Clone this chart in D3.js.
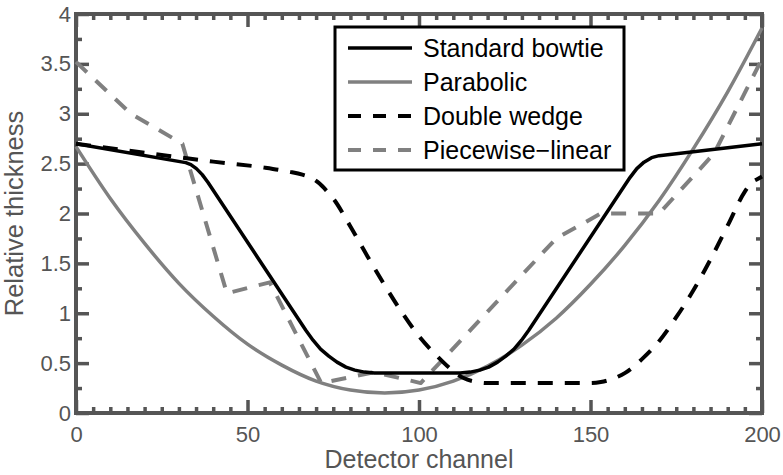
<!DOCTYPE html>
<html>
<head>
<meta charset="utf-8">
<script src="https://cdn.jsdelivr.net/npm/d3@7"></script>
<style>
  html, body { margin: 0; padding: 0; background: #fff; }
  svg { display: block; font-family: "Liberation Sans", Arial, Helvetica, sans-serif; }
</style>
</head>
<body>
<svg id="chart" width="783" height="475"></svg>
<script>
// ---- Data ----
const seriesNames = ["Standard bowtie", "Parabolic", "Double wedge", "Piecewise\u2212linear"];

const bowtieX = [0, 32, 33.5, 35.1, 36.8, 38.5, 67, 69.1, 71.3, 73.7, 76.1, 78.7, 81.3, 84.1, 87, 112, 114.9, 117.7, 120.3, 122.9, 125.3, 127.7, 129.9, 132, 161.5, 163.5, 165.6, 167.8, 170, 200];
const bowtieY = [2.70, 2.51, 2.49, 2.45, 2.39, 2.31, 0.83, 0.73, 0.64, 0.57, 0.51, 0.46, 0.43, 0.41, 0.40, 0.40, 0.41, 0.43, 0.46, 0.51, 0.57, 0.64, 0.73, 0.83, 2.36, 2.45, 2.515, 2.56, 2.58, 2.70];

const parabolicX = [0, 10, 20, 30, 40, 50, 60, 70, 80, 90, 100, 110, 120, 130, 140, 150, 160, 170, 180, 190, 200];
const parabolicY = [2.67, 2.15, 1.70, 1.30, 0.97, 0.69, 0.48, 0.32, 0.23, 0.20, 0.23, 0.32, 0.47, 0.68, 0.95, 1.29, 1.68, 2.13, 2.65, 3.22, 3.86];

const wedgeX = [0, 20, 40, 55, 62, 66, 69, 71, 73, 75, 80, 85, 90, 95, 100, 105, 110, 113, 117, 120, 150, 153, 157, 160, 165, 170, 175, 180, 185, 190, 195, 197, 199, 200];
const wedgeY = [2.70, 2.61, 2.52, 2.46, 2.42, 2.39, 2.35, 2.30, 2.23, 2.15, 1.87, 1.57, 1.28, 1.01, 0.77, 0.58, 0.42, 0.35, 0.31, 0.30, 0.30, 0.31, 0.35, 0.40, 0.54, 0.72, 0.96, 1.23, 1.54, 1.88, 2.22, 2.31, 2.35, 2.37];

const piecewiseX = [0, 16, 31, 44, 56.5, 71.5, 87, 100.5, 140, 153, 170, 186, 200];
const piecewiseY = [3.52, 3.00, 2.70, 1.20, 1.31, 0.30, 0.41, 0.30, 1.75, 2.00, 2.00, 2.60, 3.55];

const xTicks = [0, 50, 100, 150, 200];
const yTicks = [0, 0.5, 1, 1.5, 2, 2.5, 3, 3.5, 4];
const xMinorTicks = d3.range(0, 201, 5).filter(v => v % 50 !== 0);
const yMinorTicks = d3.range(0, 4.01, 0.25).filter(v => Math.abs(v * 2 - Math.round(v * 2)) > 1e-6);

const xLabel = "Detector channel";
const yLabel = "Relative thickness";

// ---- Layout ----
const plotLeft = 76, plotRight = 762, plotTop = 14, plotBottom = 413;
const axisColor = "#555";
const gray = "#808080";

const svg = d3.select("#chart");
const x = d3.scaleLinear().domain([0, 200]).range([plotLeft, plotRight]);
const y = d3.scaleLinear().domain([0, 4]).range([plotBottom, plotTop]);

function styleAxis(g) {
  g.select(".domain").remove();
  g.selectAll(".tick line").attr("stroke", axisColor).attr("stroke-width", 3.5);
  g.selectAll(".tick text").attr("fill", axisColor).attr("font-size", 22)
    .attr("font-family", "'Liberation Sans', Arial, Helvetica, sans-serif");
}

// minor ticks
svg.append("g").attr("transform", `translate(0,${plotBottom})`)
  .call(d3.axisBottom(x).tickValues(xMinorTicks).tickSizeInner(-6).tickSizeOuter(0).tickFormat(""))
  .call(styleAxis);
svg.append("g").attr("transform", `translate(0,${plotTop})`)
  .call(d3.axisTop(x).tickValues(xMinorTicks).tickSizeInner(-6).tickSizeOuter(0).tickFormat(""))
  .call(styleAxis);
svg.append("g").attr("transform", `translate(${plotLeft},0)`)
  .call(d3.axisLeft(y).tickValues(yMinorTicks).tickSizeInner(-6).tickSizeOuter(0).tickFormat(""))
  .call(styleAxis);
svg.append("g").attr("transform", `translate(${plotRight},0)`)
  .call(d3.axisRight(y).tickValues(yMinorTicks).tickSizeInner(-6).tickSizeOuter(0).tickFormat(""))
  .call(styleAxis);

// major ticks
svg.append("g").attr("transform", `translate(0,${plotBottom})`)
  .call(d3.axisBottom(x).tickValues(xTicks).tickSizeInner(-13).tickSizeOuter(0).tickPadding(13).tickFormat(d3.format("d")))
  .call(styleAxis);
svg.append("g").attr("transform", `translate(0,${plotTop})`)
  .call(d3.axisTop(x).tickValues(xTicks).tickSizeInner(-13).tickSizeOuter(0).tickFormat(""))
  .call(styleAxis);
svg.append("g").attr("transform", `translate(${plotLeft},0)`)
  .call(d3.axisLeft(y).tickValues(yTicks).tickSizeInner(-13).tickSizeOuter(0).tickPadding(5).tickFormat(d => String(d)))
  .call(styleAxis);
svg.append("g").attr("transform", `translate(${plotRight},0)`)
  .call(d3.axisRight(y).tickValues(yTicks).tickSizeInner(-13).tickSizeOuter(0).tickFormat(""))
  .call(styleAxis);

// frame
svg.append("rect")
  .attr("x", plotLeft).attr("y", plotTop)
  .attr("width", plotRight - plotLeft).attr("height", plotBottom - plotTop)
  .attr("fill", "none").attr("stroke", axisColor).attr("stroke-width", 4);

// axis labels
svg.append("text").attr("x", (plotLeft + plotRight) / 2).attr("y", 468)
  .attr("text-anchor", "middle").attr("fill", axisColor).attr("font-size", 25)
  .text(xLabel);
svg.append("text").attr("transform", `translate(23,${(plotTop + plotBottom) / 2}) rotate(-90)`)
  .attr("text-anchor", "middle").attr("fill", axisColor).attr("font-size", 25.5)
  .text(yLabel);

// lines
const series = [
  { name: seriesNames[0], xs: bowtieX, ys: bowtieY, color: "#000", dash: null, width: 3.5, curve: d3.curveLinear },
  { name: seriesNames[1], xs: parabolicX, ys: parabolicY, color: gray, dash: null, width: 3.5, curve: d3.curveMonotoneX },
  { name: seriesNames[2], xs: wedgeX, ys: wedgeY, color: "#000", dash: "15,12", width: 4, curve: d3.curveMonotoneX },
  { name: seriesNames[3], xs: piecewiseX, ys: piecewiseY, color: gray, dash: "15,12", width: 4, curve: d3.curveLinear }
];

const drawOrder = [1, 3, 2, 0];
drawOrder.forEach(i => {
  const s = series[i];
  const pts = s.xs.map((v, j) => [v, s.ys[j]]);
  const line = d3.line().x(d => x(d[0])).y(d => y(d[1])).curve(s.curve);
  svg.append("path").datum(pts)
    .attr("d", line)
    .attr("fill", "none")
    .attr("stroke", s.color)
    .attr("stroke-width", s.width)
    .attr("stroke-dasharray", s.dash)
    .attr("stroke-linejoin", "round");
});

// legend
const lg = svg.append("g");
lg.append("rect").attr("x", 335).attr("y", 27).attr("width", 289).attr("height", 143)
  .attr("fill", "#fff").attr("stroke", "#000").attr("stroke-width", 3);
const rowY = [48, 82, 116, 150];
series.forEach((s, i) => {
  lg.append("line").attr("x1", 348).attr("x2", 412).attr("y1", rowY[i]).attr("y2", rowY[i])
    .attr("stroke", s.color).attr("stroke-width", s.width).attr("stroke-dasharray", s.dash ? "13,12" : null);
  lg.append("text").attr("x", 423).attr("y", rowY[i]).attr("dy", "0.35em")
    .attr("font-size", 25).attr("fill", "#000").text(s.name);
});
</script>
</body>
</html>
